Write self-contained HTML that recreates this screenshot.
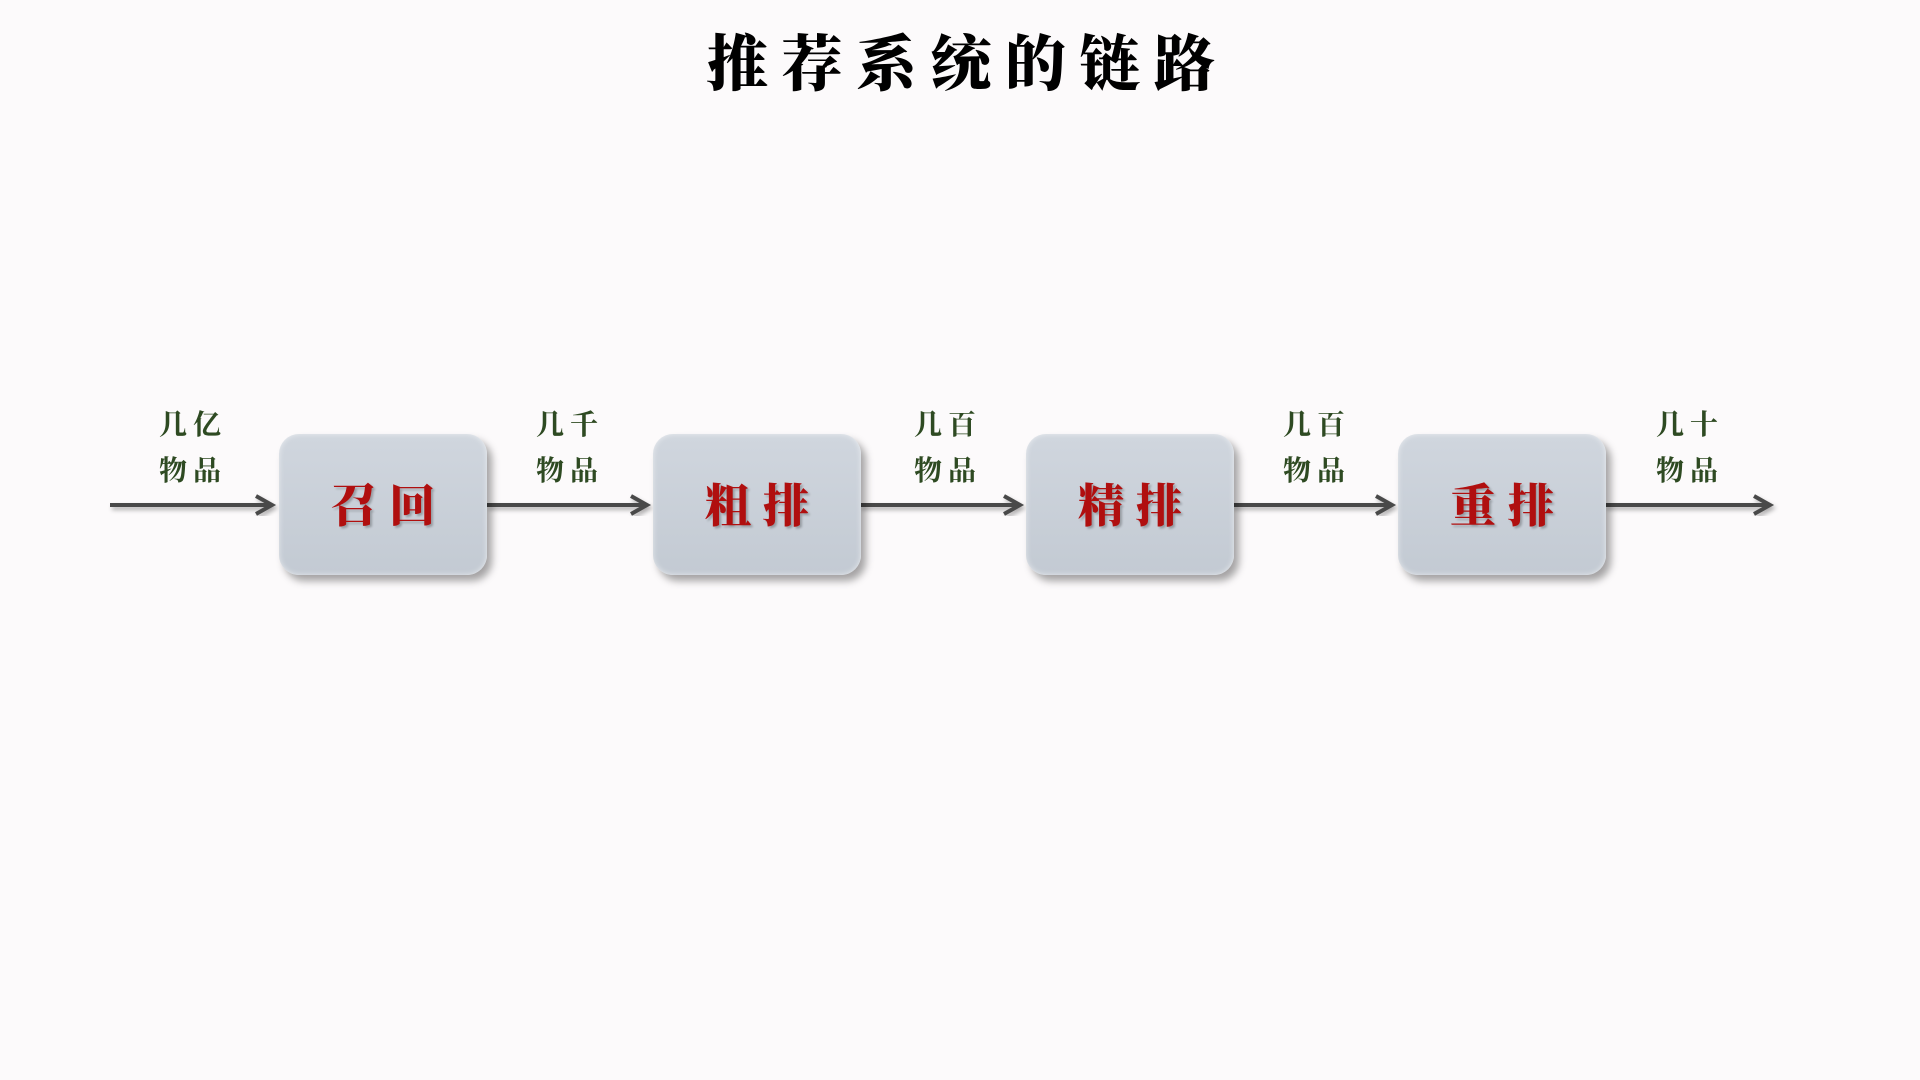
<!DOCTYPE html>
<html><head><meta charset="utf-8"><style>
body{margin:0;width:1920px;height:1080px;background:#fcfafb;position:relative;overflow:hidden;font-family:"Liberation Sans","Noto Sans CJK SC",sans-serif}
.t{position:absolute;top:16px;left:707px;width:530px;font-size:61px;font-weight:900;letter-spacing:13.5px;white-space:nowrap;color:#000;font-family:"Noto Serif CJK SC","Noto Sans CJK SC",serif}
.box{position:absolute;top:434px;width:208px;height:141px;border-radius:20px;background:linear-gradient(#d0d6de,#c3cad3);box-shadow:5px 6px 8px rgba(0,0,0,0.35), inset 0 0 6px rgba(255,255,255,0.6);display:flex;align-items:center;justify-content:center;color:#b00f0f;font-size:46px;font-weight:900;letter-spacing:12px;text-shadow:2px 2px 2px rgba(0,0,0,0.25);font-family:"Noto Serif CJK SC","Noto Sans CJK SC",serif}
.box span{margin-left:12px;margin-top:-4px}
.lbl{position:absolute;top:400px;width:120px;text-align:center;color:#2e4a22;font-size:28px;font-weight:700;line-height:46px;letter-spacing:6px;font-family:"Noto Serif CJK SC","Noto Sans CJK SC",serif}
</style></head><body>
<div class="t">推荐系统的链路</div>
<svg width="1920" height="1080" style="position:absolute;left:0;top:0">
<defs><filter id="s"><feDropShadow dx="2" dy="3" stdDeviation="2" flood-opacity="0.3"/></filter></defs>
<g stroke="#4a4a4a" stroke-width="4" fill="none" filter="url(#s)">
<line x1="110" y1="505" x2="270" y2="505"/><polyline points="256,496 272,505 256,514"/>
<line x1="487" y1="505" x2="645" y2="505"/><polyline points="631,496 647,505 631,514"/>
<line x1="860" y1="505" x2="1018" y2="505"/><polyline points="1004,496 1020,505 1004,514"/>
<line x1="1232" y1="505" x2="1390" y2="505"/><polyline points="1376,496 1392,505 1376,514"/>
<line x1="1605" y1="505" x2="1768" y2="505"/><polyline points="1754,496 1770,505 1754,514"/>
</g></svg>
<div class="box" style="left:279px"><span>召回</span></div>
<div class="box" style="left:653px"><span>粗排</span></div>
<div class="box" style="left:1026px"><span>精排</span></div>
<div class="box" style="left:1398px"><span>重排</span></div>
<div class="lbl" style="left:133px">几亿<br>物品</div>
<div class="lbl" style="left:510px">几千<br>物品</div>
<div class="lbl" style="left:888px">几百<br>物品</div>
<div class="lbl" style="left:1257px">几百<br>物品</div>
<div class="lbl" style="left:1630px">几十<br>物品</div>
</body></html>
